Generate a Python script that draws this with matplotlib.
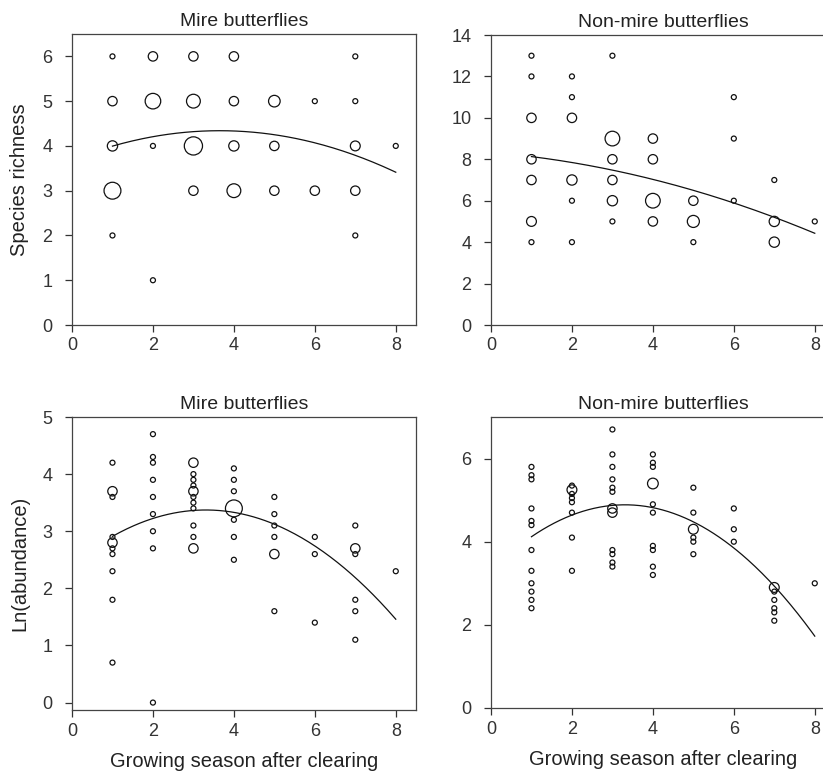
import numpy as np
import matplotlib
matplotlib.use('Agg')
from matplotlib import pyplot as plt

plt.rcParams['font.family'] = ['Liberation Sans', 'DejaVu Sans']

# Mire butterflies - species richness (x = growing season, y = richness, n = marker weight)
mire_rich_x = [1, 1, 1, 1, 1, 2, 2, 2, 2, 3, 3, 3, 3, 4, 4, 4, 4, 5, 5, 5, 6, 6, 7, 7, 7, 7, 7, 8]
mire_rich_y = [6, 5, 4, 3, 2, 6, 5, 4, 1, 6, 5, 4, 3, 6, 5, 4, 3, 5, 4, 3, 5, 3, 6, 5, 4, 3, 2, 4]
mire_rich_n = [1, 2, 2.2, 3.7, 1, 2, 3.4, 1, 1, 2, 3, 4, 2, 2, 2, 2.2, 3, 2.5, 2, 2, 1, 2, 1, 1, 2.1, 2, 1, 1]
mire_rich_fit = [3.687, 0.3577, -0.049]   # c0, c1, c2 of the quadratic curve

# Non-mire butterflies - species richness
non_rich_x = [1, 1, 1, 1, 1, 1, 1, 2, 2, 2, 2, 2, 2, 3, 3, 3, 3, 3, 3,
              4, 4, 4, 4, 5, 5, 5, 6, 6, 6, 7, 7, 7, 8]
non_rich_y = [13, 12, 10, 8, 7, 5, 4, 12, 11, 10, 7, 6, 4, 13, 9, 8, 7, 6, 5,
              9, 8, 6, 5, 6, 5, 4, 11, 9, 6, 7, 5, 4, 5]
non_rich_n = [1, 1, 2, 2, 2, 2.1, 1, 1, 1, 2, 2.2, 1, 1, 1, 3.2, 2, 2, 2.2, 1,
              2, 2, 3.2, 2, 2, 2.6, 1, 1, 1, 1, 1, 2.2, 2.2, 1]
non_rich_fit = [8.335, -0.1643, -0.0405]

# Mire butterflies - ln(abundance)
mire_ab_x = [1] * 10 + [2] * 9 + [3] * 11 + [4] * 7 + [5] * 6 + [6] * 3 + [7] * 6 + [8]
mire_ab_y = [4.2, 3.7, 3.6, 2.9, 2.8, 2.7, 2.6, 2.3, 1.8, 0.7,
             4.7, 4.3, 4.2, 3.9, 3.6, 3.3, 3.0, 2.7, 0.0,
             4.2, 4.0, 3.9, 3.8, 3.7, 3.6, 3.5, 3.4, 3.1, 2.9, 2.7,
             4.1, 3.9, 3.7, 3.4, 3.2, 2.9, 2.5,
             3.6, 3.3, 3.1, 2.9, 2.6, 1.6,
             2.9, 2.6, 1.4,
             3.1, 2.7, 2.6, 1.8, 1.6, 1.1,
             2.3]
mire_ab_n = [1, 2, 1, 1, 2, 1, 1, 1, 1, 1,
             1, 1, 1, 1, 1, 1, 1, 1, 1,
             2, 1, 1, 1, 2, 1, 1, 1, 1, 1, 2,
             1, 1, 1, 3.7, 1, 1, 1,
             1, 1, 1, 1, 2, 1,
             1, 1, 1,
             1, 2, 1, 1, 1, 1,
             1]
mire_ab_fit = [2.423, 0.574, -0.0868]

# Non-mire butterflies - ln(abundance)
non_ab_x = [1] * 12 + [2] * 8 + [3] * 12 + [4] * 10 + [5] * 6 + [6] * 3 + [7] * 6 + [8]
non_ab_y = [5.8, 5.6, 5.5, 4.8, 4.5, 4.4, 3.8, 3.3, 3.0, 2.8, 2.6, 2.4,
            5.35, 5.25, 5.15, 5.05, 4.95, 4.7, 4.1, 3.3,
            6.7, 6.1, 5.8, 5.5, 5.3, 5.2, 4.8, 4.7, 3.8, 3.7, 3.5, 3.4,
            6.1, 5.9, 5.8, 5.4, 4.9, 4.7, 3.9, 3.8, 3.4, 3.2,
            5.3, 4.7, 4.3, 4.1, 4.0, 3.7,
            4.8, 4.3, 4.0,
            2.9, 2.8, 2.6, 2.4, 2.3, 2.1,
            3.0]
non_ab_n = [1] * 12 + [1, 2.1, 1, 1, 1, 1, 1, 1] + [1, 1, 1, 1, 1, 1, 2, 2, 1, 1, 1, 1] \
    + [1, 1, 1, 2.3, 1, 1, 1, 1, 1, 1] + [1, 1, 2.1, 1, 1, 1] + [1, 1, 1] \
    + [2.1, 1, 1, 1, 1, 1] + [1]
non_ab_fit = [3.312, 0.9517, -0.1437]

titles = ['Mire butterflies', 'Non-mire butterflies', 'Mire butterflies', 'Non-mire butterflies']
ylabels = ['Species richness', '', 'Ln(abundance)', '']
xlabel = 'Growing season after clearing'

W, H = 823, 774
fig = plt.figure(figsize=(W / 100, H / 100), dpi=100)


def box(l, t, r, b):
    return [l / W, 1 - b / H, (r - l) / W, (b - t) / H]


axes = [fig.add_axes(box(72, 34, 416, 325)),
        fig.add_axes(box(491, 35, 835, 325)),
        fig.add_axes(box(72, 417, 416, 710)),
        fig.add_axes(box(491, 417, 835, 708))]

panels = [(mire_rich_x, mire_rich_y, mire_rich_n, mire_rich_fit, (0, 6.5), [0, 1, 2, 3, 4, 5, 6]),
          (non_rich_x, non_rich_y, non_rich_n, non_rich_fit, (0, 14), [0, 2, 4, 6, 8, 10, 12, 14]),
          (mire_ab_x, mire_ab_y, mire_ab_n, mire_ab_fit, (-0.13, 5), [0, 1, 2, 3, 4, 5]),
          (non_ab_x, non_ab_y, non_ab_n, non_ab_fit, (0, 7), [0, 2, 4, 6])]

for i, (ax, (x, y, n, fit, ylim, yt)) in enumerate(zip(axes, panels)):
    d_pt = (4.4 * np.array(n) + 0.6) * 0.72   # marker diameter in points
    ax.scatter(x, y, s=d_pt ** 2, facecolors='none', edgecolors='#111111', linewidths=0.9, zorder=3)
    xs = np.linspace(1, 8, 200)
    ax.plot(xs, fit[0] + fit[1] * xs + fit[2] * xs ** 2, color='#111111', lw=0.9, zorder=2)
    ax.set_xlim(0, 8.5)
    ax.set_ylim(*ylim)
    ax.set_xticks([0, 2, 4, 6, 8])
    ax.set_yticks(yt)
    ax.tick_params(direction='out', length=5, width=0.9, colors='#333333', labelsize=13)
    ax.tick_params(axis='y', pad=9)
    ax.tick_params(axis='x', pad=4)
    for s in ax.spines.values():
        s.set_color('#444444')
        s.set_linewidth(0.9)
    ax.set_title(titles[i], fontsize=14, color='#222222', pad=6)
    if ylabels[i]:
        ax.set_ylabel(ylabels[i], fontsize=14.5, color='#222222')
        ax.yaxis.set_label_coords(-0.125, 0.5)
    if i >= 2:
        ax.set_xlabel(xlabel, fontsize=14.5, color='#222222', labelpad=9)

plt.savefig('out.png', dpi=100)
